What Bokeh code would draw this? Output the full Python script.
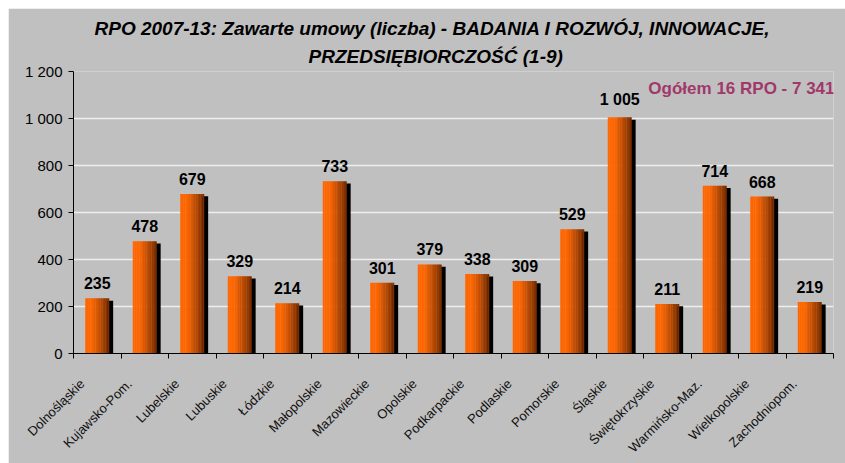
from bokeh.plotting import figure
from bokeh.models import FixedTicker, Label, Range1d, Title
from bokeh.core.properties import value
from bokeh.embed import file_html
from bokeh.resources import INLINE

regions = ["Dolnośląskie", "Kujawsko-Pom.", "Lubelskie", "Lubuskie", "Łódzkie",
           "Małopolskie", "Mazowieckie", "Opolskie", "Podkarpackie", "Podlaskie",
           "Pomorskie", "Śląskie", "Świętokrzyskie", "Warmińsko-Maz.",
           "Wielkopolskie", "Zachodniopom."]
contracts = [235, 478, 679, 329, 214, 733, 301, 379, 338, 309, 529, 1005, 211, 714, 668, 219]
y_ticks = [0, 200, 400, 600, 800, 1000, 1200]
y_tick_labels = ["0", "200", "400", "600", "800", "1 000", "1 200"]
title_lines = ["RPO 2007-13: Zawarte umowy (liczba) - BADANIA I ROZWÓJ, INNOWACJE,",
               "PRZEDSIĘBIORCZOŚĆ (1-9)"]
total_note = "Ogółem 16 RPO - 7 341"

def fmt(v):
    return f"{v:,}".replace(",", " ")

n = len(regions)
xs = [i + 0.5 for i in range(n)]
label_pos = [x - 0.32 for x in xs]

W, H = 837, 455
p = figure(width=W, height=H, output_backend="svg", toolbar_location=None,
           x_range=Range1d(0, n), y_range=Range1d(0, 1200),
           min_border_left=65, min_border_right=12, min_border_top=63, min_border_bottom=110)
p.margin = (8, 0, 0, 8)
p.background_fill_color = "#C0C0C0"
p.border_fill_color = "#C0C0C0"
p.outline_line_color = None

# shadow
p.vbar(x=[x + 0.27 for x in xs], top=[v - 10 for v in contracts], width=0.13,
       fill_color="black", line_color=None)

# gradient bar via slices
N = 14
bw = 0.5
c0 = (255, 102, 0)
c1 = (122, 46, 0)
for k in range(N):
    t = k / (N - 1)
    tt = max(0.0, (t - 0.25) / 0.75) ** 1.1
    col = tuple(int(round(c0[j] + (c1[j] - c0[j]) * tt)) for j in range(3))
    hexc = "#%02x%02x%02x" % col
    off = -bw / 2 + (k + 0.5) * bw / N
    p.vbar(x=[x + off for x in xs], top=contracts, width=bw / N * 1.15,
           fill_color=hexc, line_color=None)

# value labels
p.text(x=xs, y=contracts, text=[fmt(v) for v in contracts], text_align="center",
       text_baseline="bottom", y_offset=-9, text_font_size="16px",
       text_font_style="bold", text_color="black", text_font=value("Liberation Sans"))

# axes
p.yaxis.ticker = FixedTicker(ticks=y_ticks)
p.yaxis.major_label_overrides = {t: l for t, l in zip(y_ticks, y_tick_labels)}
p.yaxis.major_label_text_font = "Liberation Sans"
p.yaxis.major_label_text_font_size = "15px"
p.yaxis.major_label_text_color = "black"
p.yaxis.axis_line_color = "black"
p.yaxis.major_tick_line_color = "black"
p.yaxis.major_tick_in = 0
p.yaxis.major_tick_out = 5
p.yaxis.minor_tick_line_color = None
p.yaxis.major_label_standoff = 6

p.xaxis.ticker = FixedTicker(ticks=label_pos, minor_ticks=list(range(n + 1)))
p.xaxis.major_label_overrides = {x: r for x, r in zip(label_pos, regions)}
p.xaxis.major_label_orientation = 0.785398
p.xaxis.major_label_text_font = "Liberation Sans"
p.xaxis.major_label_text_font_size = "13px"
p.xaxis.major_label_text_color = "#111111"
p.xaxis.axis_line_color = "black"
p.xaxis.major_tick_line_color = None
p.xaxis.minor_tick_line_color = "black"
p.xaxis.minor_tick_in = 0
p.xaxis.minor_tick_out = 5
p.xaxis.major_label_standoff = 22

p.xgrid.grid_line_color = None
p.ygrid.ticker = FixedTicker(ticks=y_ticks)
p.ygrid.grid_line_color = "#EEEEEE"
p.ygrid.grid_line_width = 1.5

# title lines (second line first: it sits nearest the frame)
for txt, off, so in [(title_lines[1], 235, 10), (title_lines[0], 21, 0)]:
    p.add_layout(Title(text=txt, align="left", offset=off,
                       text_font="Liberation Sans", text_font_size="19px",
                       text_font_style="bold italic", text_color="black",
                       standoff=so), "above")

p.add_layout(Label(x=761, y=265, x_units="screen", y_units="screen", text=total_note,
                   text_align="right", text_baseline="middle",
                   text_font="Liberation Sans", text_font_size="17px",
                   text_font_style="bold", text_color="#A0386A"))

open("out.html", "w").write(file_html(p, INLINE))
